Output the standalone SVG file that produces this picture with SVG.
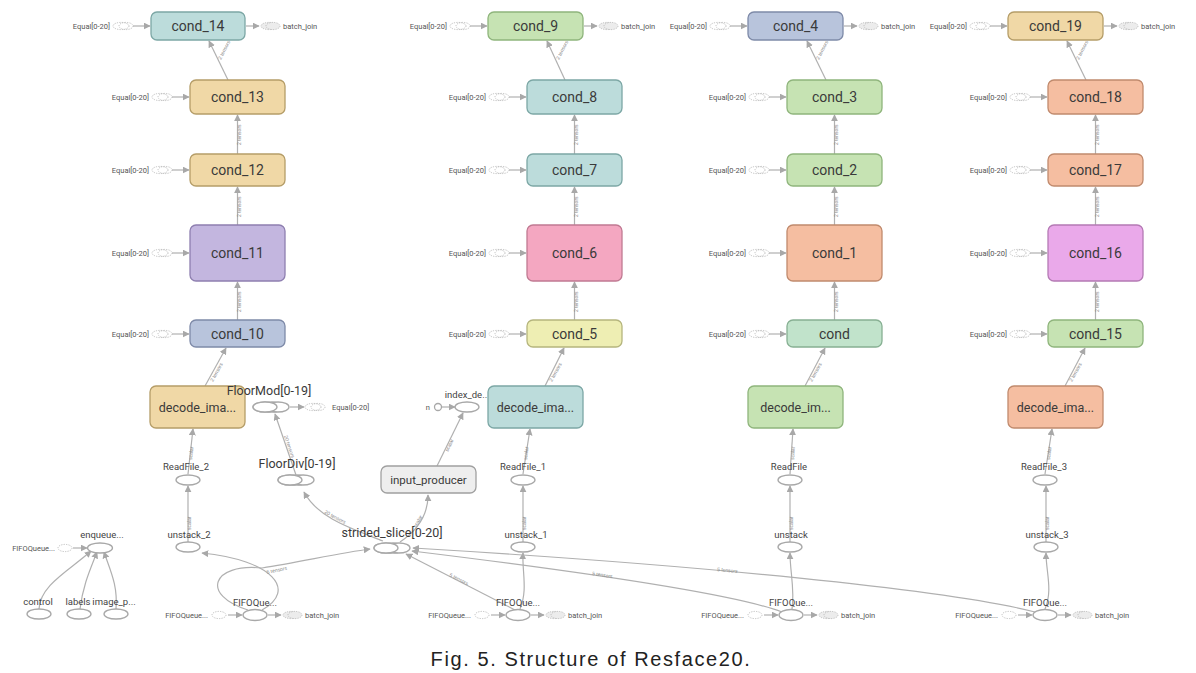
<svg xmlns="http://www.w3.org/2000/svg" width="1196" height="673" viewBox="0 0 1196 673">
<style>
.bx{stroke-width:1.3}
.teal{fill:#bcdcdb;stroke:#7ca7a5}
.tan{fill:#f0d8a6;stroke:#b59d68}
.pur{fill:#c3b6df;stroke:#8e7fb0}
.blu{fill:#b8c4dc;stroke:#7e8aa8}
.grn{fill:#c6e3b3;stroke:#8fb57c}
.pnk{fill:#f4a7c1;stroke:#c07a92}
.yel{fill:#eeeeb3;stroke:#b5b57d}
.sal{fill:#f5bea1;stroke:#c08a6d}
.mag{fill:#eaa9ea;stroke:#b47ab4}
.mnt{fill:#c1e3cb;stroke:#87b093}
.gry{fill:#eeeeee;stroke:#a0a0a0}
.t{font-family:Roboto,"Liberation Sans",sans-serif;fill:#3a3a3a;text-anchor:middle}
.c{font-size:14px}
.d{font-size:12.5px}
.s{font-family:Roboto,"Liberation Sans",sans-serif;font-size:7.5px;fill:#555}
.m{font-family:Roboto,"Liberation Sans",sans-serif;font-size:9.5px;fill:#444;text-anchor:middle}
.el{font-family:"Liberation Sans",sans-serif;font-size:5px;fill:#888}
.op{fill:#fff;stroke:#a8a8a8;stroke-width:1.3}
.dot{fill:none;stroke:#b8b8b8;stroke-width:0.9;stroke-dasharray:1.2 1.2}
.dotf{fill:#ececec;stroke:#b8b8b8;stroke-width:0.9;stroke-dasharray:1.2 1.2}
.e{fill:none;stroke:#b0b0b0;stroke-width:1.2;marker-end:url(#arr)}
</style>
<defs>
<marker id="arr" viewBox="0 0 10 10" refX="9" refY="5" markerWidth="7" markerHeight="7" orient="auto-start-reverse" markerUnits="userSpaceOnUse">
<path d="M0,0 L10,5 L0,10 z" fill="#a8a8a8"/>
</marker>
<g id="eqL">
<text class="s" x="-41" y="3" text-anchor="end">Equal[0-20]</text>
<ellipse class="dot" cx="-30" cy="0" rx="8" ry="3.6"/>
<ellipse class="dot" cx="-25" cy="0" rx="7" ry="3.6"/>
<line class="e" x1="-18" y1="0" x2="-1" y2="0"/>
</g>
<g id="bjR">
<line class="e" x1="1" y1="0" x2="14" y2="0"/>
<ellipse class="dotf" cx="24" cy="0" rx="8" ry="3.6"/>
<ellipse class="dotf" cx="28" cy="0" rx="7" ry="3.6"/>
<text class="s" x="38" y="3">batch_join</text>
</g>
<g id="stack">
<ellipse class="op" cx="0" cy="0" rx="12" ry="5"/>
<ellipse class="op" cx="7" cy="0" rx="11" ry="5"/>
<ellipse class="op" cx="13" cy="0" rx="11" ry="5"/>
<ellipse class="op" cx="0" cy="0" rx="12" ry="5"/>
</g>
</defs>
<rect width="1196" height="673" fill="#fff"/>

<g id="connectors">
<!-- column A -->
<path class="e" d="M228 80 L209 41"/>
<path class="e" d="M237.5 154 L237.5 115"/>
<path class="e" d="M237.5 225 L237.5 187"/>
<path class="e" d="M237.5 320 L237.5 282"/>
<path class="e" d="M205 386 L226 348"/>
<path class="e" d="M188 474 L193 429"/>
<path class="e" d="M188 542 L188 486"/>
<!-- column B -->
<path class="e" d="M565 80 L547 41"/>
<path class="e" d="M574.5 154 L574.5 115"/>
<path class="e" d="M574.5 225 L574.5 187"/>
<path class="e" d="M574.5 320 L574.5 282"/>
<path class="e" d="M545 386 L564 348"/>
<path class="e" d="M523 474 L530 429"/>
<path class="e" d="M523 542 L523 486"/>
<path class="e" d="M520 609 C528 590 522 572 523 553"/>
<!-- column C -->
<path class="e" d="M826 80 L807 41"/>
<path class="e" d="M834.5 154 L834.5 115"/>
<path class="e" d="M834.5 225 L834.5 187"/>
<path class="e" d="M834.5 320 L834.5 282"/>
<path class="e" d="M805 386 L825 348"/>
<path class="e" d="M790 474 L793 429"/>
<path class="e" d="M790 542 L790 486"/>
<path class="e" d="M792 609 C795 590 790 572 790 553"/>
<!-- column D -->
<path class="e" d="M1086 80 L1067 41"/>
<path class="e" d="M1095.5 154 L1095.5 115"/>
<path class="e" d="M1095.5 225 L1095.5 187"/>
<path class="e" d="M1095.5 320 L1095.5 282"/>
<path class="e" d="M1065 386 L1085 348"/>
<path class="e" d="M1045 474 L1052 429"/>
<path class="e" d="M1046 542 L1046 486"/>
<path class="e" d="M1045 609 C1053 590 1046 572 1046 553"/>
<!-- middle -->
<path class="e" d="M296 475 L275 414"/>
<path class="e" d="M383 541 C350 528 318 518 304 492"/>
<path class="e" d="M400 542 C418 530 428 515 428 495"/>
<path class="e" d="M437 466 L463 413"/>
<path class="e" d="M442 407 L455 407"/>
<path class="e" d="M290 407 L304 407"/>
<!-- FIFO to strided_slice -->
<path class="e" d="M515 610 L406 554"/>
<path class="e" d="M782 612 C740 596 600 574 412 551"/>
<path class="e" d="M1035 612 C950 590 700 565 413 548"/>
<!-- FIFO A loop -->
<path class="e" d="M262 610 C298 590 272 560 202 553"/>
<path class="e" d="M248 610 C200 595 212 563 262 568 C300 562 340 553 370 549"/>
<!-- enqueue -->
<path class="e" d="M39 609 C40 585 70 570 91 551"/>
<path class="e" d="M80 609 C83 585 90 570 97 552"/>
<path class="e" d="M116 609 C118 585 110 570 104 552"/>
<path class="e" d="M73 548 L87 548"/>
<!-- edge labels -->
<text class="el" transform="translate(221 60) rotate(-63)">2 tensors</text>
<text class="el" transform="translate(241 145) rotate(-90)">2 tensors</text>
<text class="el" transform="translate(241 217) rotate(-90)">2 tensors</text>
<text class="el" transform="translate(241 312) rotate(-90)">2 tensors</text>
<text class="el" transform="translate(213 382) rotate(-61)">2 tensors</text>
<text class="el" transform="translate(192 460) rotate(-84)">scalar</text>
<text class="el" transform="translate(191 530) rotate(-90)">scalar</text>
<text class="el" transform="translate(559 60) rotate(-63)">2 tensors</text>
<text class="el" transform="translate(578 145) rotate(-90)">2 tensors</text>
<text class="el" transform="translate(578 217) rotate(-90)">2 tensors</text>
<text class="el" transform="translate(578 312) rotate(-90)">2 tensors</text>
<text class="el" transform="translate(552 382) rotate(-61)">2 tensors</text>
<text class="el" transform="translate(527 460) rotate(-84)">scalar</text>
<text class="el" transform="translate(526 530) rotate(-90)">scalar</text>
<text class="el" transform="translate(819 60) rotate(-63)">2 tensors</text>
<text class="el" transform="translate(838 145) rotate(-90)">2 tensors</text>
<text class="el" transform="translate(838 217) rotate(-90)">2 tensors</text>
<text class="el" transform="translate(838 312) rotate(-90)">2 tensors</text>
<text class="el" transform="translate(812 382) rotate(-61)">2 tensors</text>
<text class="el" transform="translate(794 460) rotate(-86)">scalar</text>
<text class="el" transform="translate(793 530) rotate(-90)">scalar</text>
<text class="el" transform="translate(1079 60) rotate(-63)">2 tensors</text>
<text class="el" transform="translate(1099 145) rotate(-90)">2 tensors</text>
<text class="el" transform="translate(1099 217) rotate(-90)">2 tensors</text>
<text class="el" transform="translate(1099 312) rotate(-90)">2 tensors</text>
<text class="el" transform="translate(1072 382) rotate(-61)">2 tensors</text>
<text class="el" transform="translate(1050 460) rotate(-84)">scalar</text>
<text class="el" transform="translate(1049 530) rotate(-90)">scalar</text>
<text class="el" transform="translate(284 436) rotate(71)">20 tensors</text>
<text class="el" transform="translate(324 513) rotate(28)">20 tensors</text>
<text class="el" transform="translate(448 452) rotate(-64)">scalar</text>
<text class="el" transform="translate(416 528) rotate(-60)">scalar</text>
<text class="el" transform="translate(267 574) rotate(-12)">5 tensors</text>
<text class="el" transform="translate(449 576) rotate(27)">5 tensors</text>
<text class="el" transform="translate(592 575) rotate(9)">5 tensors</text>
<text class="el" transform="translate(717 571) rotate(5)">5 tensors</text>
</g>

<!-- column A -->
<g id="cond_14"><rect class="bx teal" x="151" y="12" width="94" height="28" rx="6"/><text class="t c" x="198" y="31">cond_14</text><use href="#eqL" x="151" y="26"/><use href="#bjR" x="245" y="26"/></g>
<g id="cond_13"><rect class="bx tan" x="190" y="80" width="95" height="34" rx="6"/><text class="t c" x="237.5" y="102">cond_13</text><use href="#eqL" x="190" y="97"/></g>
<g id="cond_12"><rect class="bx tan" x="190" y="154" width="95" height="32" rx="6"/><text class="t c" x="237.5" y="175">cond_12</text><use href="#eqL" x="190" y="170"/></g>
<g id="cond_11"><rect class="bx pur" x="190" y="225" width="95" height="56" rx="6"/><text class="t c" x="237.5" y="258">cond_11</text><use href="#eqL" x="190" y="253"/></g>
<g id="cond_10"><rect class="bx blu" x="190" y="320" width="95" height="27" rx="6"/><text class="t c" x="237.5" y="339">cond_10</text><use href="#eqL" x="190" y="334"/></g>
<g id="decode_A"><rect class="bx tan" x="150" y="386" width="95" height="42" rx="6"/><text class="t d" x="197.5" y="412">decode_ima...</text></g>
<g id="ReadFile_2"><text class="m" x="186" y="470">ReadFile_2</text><ellipse class="op" cx="188" cy="480" rx="12" ry="5"/></g>
<g id="unstack_2"><text class="m" x="189" y="538">unstack_2</text><ellipse class="op" cx="188" cy="547" rx="12" ry="5"/></g>
<g id="FIFOQue_A"><text class="m" x="255" y="606" font-size="9">FIFOQue...</text><ellipse class="op" cx="255" cy="615" rx="12" ry="5.5"/>
<text class="s" x="208" y="618" text-anchor="end">FIFOQueue...</text><ellipse class="dot" cx="219" cy="615" rx="7" ry="3.6"/><line class="e" x1="228" y1="615" x2="242" y2="615"/><use href="#bjR" x="267" y="615"/></g>

<!-- column B -->
<g id="cond_9"><rect class="bx grn" x="488" y="12" width="95" height="28" rx="6"/><text class="t c" x="535.5" y="31">cond_9</text><use href="#eqL" x="488" y="26"/><use href="#bjR" x="583" y="26"/></g>
<g id="cond_8"><rect class="bx teal" x="527" y="80" width="95" height="34" rx="6"/><text class="t c" x="574.5" y="102">cond_8</text><use href="#eqL" x="527" y="97"/></g>
<g id="cond_7"><rect class="bx teal" x="527" y="154" width="95" height="32" rx="6"/><text class="t c" x="574.5" y="175">cond_7</text><use href="#eqL" x="527" y="170"/></g>
<g id="cond_6"><rect class="bx pnk" x="527" y="225" width="95" height="56" rx="6"/><text class="t c" x="574.5" y="258">cond_6</text><use href="#eqL" x="527" y="253"/></g>
<g id="cond_5"><rect class="bx yel" x="527" y="320" width="95" height="27" rx="6"/><text class="t c" x="574.5" y="339">cond_5</text><use href="#eqL" x="527" y="334"/></g>
<g id="decode_B"><rect class="bx teal" x="488" y="386" width="95" height="42" rx="6"/><text class="t d" x="535.5" y="412">decode_ima...</text></g>
<g id="ReadFile_1"><text class="m" x="523" y="470">ReadFile_1</text><ellipse class="op" cx="523" cy="480" rx="12" ry="5"/></g>
<g id="unstack_1"><text class="m" x="526" y="538">unstack_1</text><ellipse class="op" cx="523" cy="547" rx="12" ry="5"/></g>
<g id="FIFOQue_B"><text class="m" x="518" y="606" font-size="9">FIFOQue...</text><ellipse class="op" cx="518" cy="615" rx="12" ry="5.5"/>
<text class="s" x="471" y="618" text-anchor="end">FIFOQueue...</text><ellipse class="dot" cx="482" cy="615" rx="7" ry="3.6"/><line class="e" x1="491" y1="615" x2="505" y2="615"/><use href="#bjR" x="530" y="615"/></g>

<!-- column C -->
<g id="cond_4"><rect class="bx blu" x="748" y="12" width="95" height="28" rx="6"/><text class="t c" x="795.5" y="31">cond_4</text><use href="#eqL" x="748" y="26"/><use href="#bjR" x="843" y="26"/></g>
<g id="cond_3"><rect class="bx grn" x="787" y="80" width="95" height="34" rx="6"/><text class="t c" x="834.5" y="102">cond_3</text><use href="#eqL" x="787" y="97"/></g>
<g id="cond_2"><rect class="bx grn" x="787" y="154" width="95" height="32" rx="6"/><text class="t c" x="834.5" y="175">cond_2</text><use href="#eqL" x="787" y="170"/></g>
<g id="cond_1"><rect class="bx sal" x="787" y="225" width="95" height="56" rx="6"/><text class="t c" x="834.5" y="258">cond_1</text><use href="#eqL" x="787" y="253"/></g>
<g id="cond"><rect class="bx mnt" x="787" y="320" width="95" height="27" rx="6"/><text class="t c" x="834.5" y="339">cond</text><use href="#eqL" x="787" y="334"/></g>
<g id="decode_C"><rect class="bx grn" x="748" y="386" width="95" height="42" rx="6"/><text class="t d" x="795.5" y="412">decode_im...</text></g>
<g id="ReadFile"><text class="m" x="789" y="470">ReadFile</text><ellipse class="op" cx="790" cy="480" rx="12" ry="5"/></g>
<g id="unstack"><text class="m" x="791" y="538">unstack</text><ellipse class="op" cx="790" cy="547" rx="12" ry="5"/></g>
<g id="FIFOQue_C"><text class="m" x="791" y="606" font-size="9">FIFOQue...</text><ellipse class="op" cx="791" cy="615" rx="12" ry="5.5"/>
<text class="s" x="744" y="618" text-anchor="end">FIFOQueue...</text><ellipse class="dot" cx="755" cy="615" rx="7" ry="3.6"/><line class="e" x1="764" y1="615" x2="778" y2="615"/><use href="#bjR" x="803" y="615"/></g>

<!-- column D -->
<g id="cond_19"><rect class="bx tan" x="1008" y="12" width="95" height="28" rx="6"/><text class="t c" x="1055.5" y="31">cond_19</text><use href="#eqL" x="1008" y="26"/><use href="#bjR" x="1103" y="26"/></g>
<g id="cond_18"><rect class="bx sal" x="1048" y="80" width="95" height="34" rx="6"/><text class="t c" x="1095.5" y="102">cond_18</text><use href="#eqL" x="1048" y="97"/></g>
<g id="cond_17"><rect class="bx sal" x="1048" y="154" width="95" height="32" rx="6"/><text class="t c" x="1095.5" y="175">cond_17</text><use href="#eqL" x="1048" y="170"/></g>
<g id="cond_16"><rect class="bx mag" x="1048" y="225" width="95" height="56" rx="6"/><text class="t c" x="1095.5" y="258">cond_16</text><use href="#eqL" x="1048" y="253"/></g>
<g id="cond_15"><rect class="bx grn" x="1048" y="320" width="95" height="27" rx="6"/><text class="t c" x="1095.5" y="339">cond_15</text><use href="#eqL" x="1048" y="334"/></g>
<g id="decode_D"><rect class="bx sal" x="1008" y="386" width="95" height="42" rx="6"/><text class="t d" x="1055.5" y="412">decode_ima...</text></g>
<g id="ReadFile_3"><text class="m" x="1044" y="470">ReadFile_3</text><ellipse class="op" cx="1045" cy="480" rx="12" ry="5"/></g>
<g id="unstack_3"><text class="m" x="1047" y="538">unstack_3</text><ellipse class="op" cx="1046" cy="547" rx="12" ry="5"/></g>
<g id="FIFOQue_D"><text class="m" x="1045" y="606" font-size="9">FIFOQue...</text><ellipse class="op" cx="1045" cy="615" rx="12" ry="5.5"/>
<text class="s" x="998" y="618" text-anchor="end">FIFOQueue...</text><ellipse class="dot" cx="1009" cy="615" rx="7" ry="3.6"/><line class="e" x1="1018" y1="615" x2="1032" y2="615"/><use href="#bjR" x="1057" y="615"/></g>

<!-- middle nodes -->
<g id="FloorMod"><text class="t" x="269" y="395" font-size="12.5">FloorMod[0-19]</text><use href="#stack" x="265" y="407"/>
<ellipse class="dot" cx="313" cy="407" rx="8" ry="3.6"/><ellipse class="dot" cx="318" cy="407" rx="7" ry="3.6"/><text class="s" x="332" y="410">Equal[0-20]</text></g>
<g id="FloorDiv"><text class="t" x="297" y="468" font-size="12.5">FloorDiv[0-19]</text><use href="#stack" x="290" y="480"/></g>
<g id="strided_slice"><text class="t" x="392" y="537" font-size="12.5">strided_slice[0-20]</text><use href="#stack" x="386" y="548"/></g>
<g id="input_producer"><rect class="bx gry" x="381" y="466" width="95" height="27" rx="6"/><text class="t" x="428.5" y="484" font-size="11.5">input_producer</text></g>
<g id="index_de"><text class="m" x="466" y="398" font-size="9">index_de..</text><ellipse class="op" cx="467" cy="407" rx="12" ry="5"/><circle class="op" cx="438" cy="407" r="3.5"/><text class="s" x="430" y="410" text-anchor="end">n</text></g>

<!-- enqueue area -->
<g id="enqueue"><text class="m" x="102" y="538">enqueue...</text><ellipse class="op" cx="100" cy="548" rx="12.5" ry="5"/>
<text class="s" x="55" y="551" text-anchor="end">FIFOQueue...</text><ellipse class="dot" cx="65" cy="548" rx="7" ry="3.6"/></g>
<g id="control"><text class="m" x="38" y="605">control</text><ellipse class="op" cx="39" cy="614" rx="12" ry="5"/></g>
<g id="labels"><text class="m" x="78" y="605">labels</text><ellipse class="op" cx="79" cy="614" rx="12" ry="5"/></g>
<g id="image_p"><text class="m" x="114" y="605">image_p...</text><ellipse class="op" cx="116" cy="614" rx="12" ry="5"/></g>

<text x="591" y="666" text-anchor="middle" font-family="'Liberation Sans',Arial,sans-serif" font-size="20" letter-spacing="1.6" fill="#222">Fig. 5. Structure of Resface20.</text>
</svg>
